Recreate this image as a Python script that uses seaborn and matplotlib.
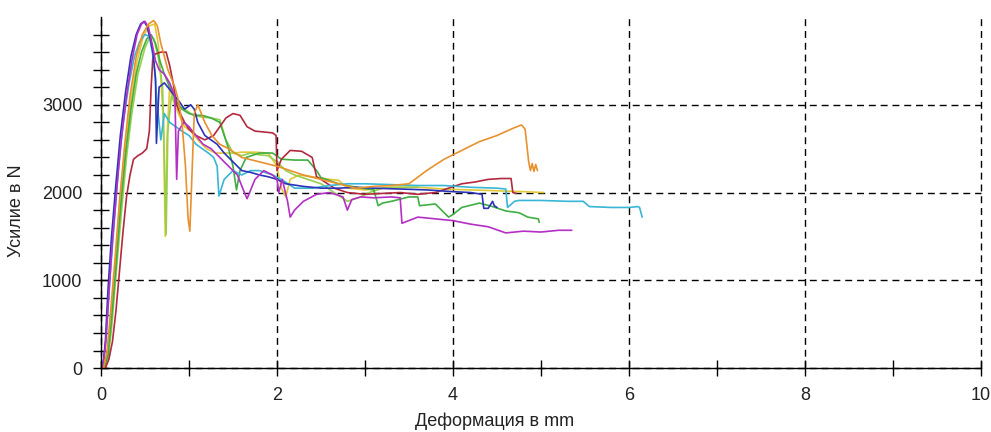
import matplotlib
matplotlib.use("Agg")
import matplotlib.pyplot as plt
from matplotlib.ticker import FixedLocator
import seaborn as sns
import pandas as pd

# ---------- data (deformation mm / force N) ----------

blue_x = [0.02, 0.05, 0.08, 0.12, 0.17, 0.22, 0.28, 0.34, 0.40, 0.45, 0.49, 0.52, 0.56, 0.59, 0.62, 0.63,
          0.66, 0.72, 0.80, 0.88, 0.95, 1.02, 1.06, 1.10, 1.18, 1.25, 1.32, 1.40, 1.50, 1.60, 1.70, 1.80,
          1.90, 2.00, 2.10, 2.30, 2.50, 2.70, 2.90, 3.10, 3.40, 3.70, 4.00, 4.20, 4.33, 4.35, 4.40, 4.45,
          4.47, 4.50]
blue_y = [0, 300, 900, 1500, 2100, 2650, 3150, 3550, 3800, 3920, 3950, 3900, 3750, 3600, 3300, 2560,
          3200, 3250, 3150, 3050, 2950, 3000, 2950, 2800, 2650, 2600, 2550, 2450, 2350, 2250, 2230, 2200,
          2180, 2150, 2100, 2070, 2050, 2050, 2060, 2050, 2040, 2030, 2010, 2000, 1980, 1820, 1820, 1900,
          1850, 1830]

cyan_x = [0.02, 0.06, 0.10, 0.15, 0.20, 0.26, 0.32, 0.38, 0.44, 0.50, 0.55, 0.60, 0.64, 0.68, 0.72, 0.78,
          0.85, 0.92, 1.00, 1.08, 1.15, 1.22, 1.28, 1.32, 1.34, 1.40, 1.50, 1.60, 1.70, 1.80, 1.95, 2.05,
          2.20, 2.40, 2.60, 2.80, 3.00, 3.30, 3.60, 3.90, 4.20, 4.50, 4.60, 4.62, 4.70, 4.75, 5.00, 5.30,
          5.48, 5.55, 5.80, 6.00, 6.10, 6.12, 6.15]
cyan_y = [0, 350, 1000, 1650, 2300, 2850, 3250, 3550, 3720, 3800, 3780, 3500, 3000, 2600, 2900, 2800,
          2750, 2700, 2650, 2550, 2500, 2450, 2400, 2300, 1960, 2150, 2250, 2200, 2250, 2250, 2200, 2150,
          2050, 2050, 2080, 2100, 2100, 2090, 2080, 2080, 2060, 2050, 2040, 1830, 1900, 1910, 1910, 1900,
          1900, 1840, 1830, 1830, 1840, 1830, 1720]

magenta_x = [0.02, 0.05, 0.09, 0.13, 0.18, 0.23, 0.29, 0.35, 0.41, 0.46, 0.50, 0.54, 0.58, 0.62, 0.66,
             0.72, 0.78, 0.84, 0.86, 0.88, 0.94, 1.00, 1.08, 1.16, 1.25, 1.35, 1.45, 1.55, 1.63, 1.66,
             1.75, 1.85, 1.95, 2.00, 2.02, 2.06, 2.12, 2.15, 2.20, 2.30, 2.45, 2.60, 2.75, 2.80, 2.85,
             2.95, 3.10, 3.30, 3.40, 3.42, 3.60, 3.80, 4.00, 4.20, 4.40, 4.60, 4.80, 5.00, 5.20, 5.35]
magenta_y = [0, 250, 850, 1450, 2050, 2600, 3100, 3500, 3800, 3920, 3950, 3880, 3700, 3500, 3400,
             3350, 3250, 3100, 2150, 2700, 2800, 2750, 2650, 2550, 2500, 2400, 2300, 2200, 2000, 1930,
             2150, 2250, 2200, 2150, 2000, 2150, 1900, 1720, 1800, 1900, 1980, 2000, 1950, 1800, 1920,
             1950, 1940, 1950, 1940, 1650, 1720, 1700, 1680, 1640, 1610, 1540, 1560, 1550, 1570, 1570]

orange_x = [0.03, 0.07, 0.11, 0.16, 0.21, 0.27, 0.33, 0.40, 0.47, 0.54, 0.60, 0.64, 0.68, 0.72, 0.76,
            0.80, 0.84, 0.88, 0.92, 0.96, 0.99, 1.01, 1.03, 1.06, 1.10, 1.18, 1.26, 1.35, 1.45, 1.60,
            1.80, 2.00, 2.15, 2.30, 2.50, 2.70, 2.90, 3.10, 3.30, 3.50, 3.70, 3.90, 4.10, 4.30, 4.50,
            4.70, 4.78, 4.82, 4.86, 4.88, 4.90, 4.92, 4.94, 4.96]
orange_y = [0, 200, 650, 1250, 1900, 2550, 3100, 3550, 3800, 3920, 3960, 3900, 3700, 3550, 3400,
            3300, 3200, 3050, 2800, 2300, 1700, 1560, 2100, 2900, 3000, 2800, 2650, 2550, 2500, 2400,
            2350, 2300, 2250, 2200, 2150, 2100, 2050, 2070, 2080, 2100, 2250, 2380, 2480, 2580, 2650,
            2740, 2770, 2720, 2350, 2250, 2330, 2240, 2320, 2250]

yellow_x = [0.03, 0.07, 0.11, 0.16, 0.22, 0.28, 0.34, 0.41, 0.48, 0.55, 0.61, 0.65, 0.68, 0.71, 0.73,
            0.75, 0.78, 0.82, 0.88, 0.95, 1.02, 1.10, 1.20, 1.30, 1.40, 1.50, 1.60, 1.75, 1.90, 2.00,
            2.05, 2.10, 2.15, 2.25, 2.40, 2.60, 2.70, 2.80, 3.00, 3.30, 3.60, 3.90, 4.20, 4.50, 4.80, 5.03]
yellow_y = [0, 150, 550, 1150, 1850, 2500, 3050, 3500, 3780, 3900, 3920, 3700, 3300, 2800, 1500,
            2600, 3200, 3050, 2900, 2750, 2700, 2600, 2500, 2450, 2450, 2450, 2460, 2460, 2450, 2300,
            2050, 1950, 2150, 2200, 2180, 2150, 2140, 2050, 2030, 2060, 2060, 2040, 2030, 2020, 2010, 2000]

green_x = [0.04, 0.08, 0.12, 0.17, 0.22, 0.28, 0.34, 0.40, 0.46, 0.52, 0.57, 0.62, 0.67, 0.72, 0.78,
           0.85, 0.92, 1.00, 1.08, 1.15, 1.25, 1.35, 1.45, 1.50, 1.54, 1.58, 1.65, 1.80, 1.95, 2.05,
           2.20, 2.35, 2.45, 2.50, 2.70, 2.90, 3.10, 3.15, 3.20, 3.30, 3.50, 3.60, 3.62, 3.80, 3.95,
           4.00, 4.10, 4.30, 4.45, 4.60, 4.75, 4.85, 4.97, 4.98]
green_y = [0, 150, 550, 1150, 1800, 2450, 2950, 3350, 3600, 3750, 3800, 3700, 3500, 3350, 3200,
           3050, 2950, 2900, 2880, 2880, 2850, 2800, 2500, 2300, 2030, 2250, 2400, 2450, 2450, 2380,
           2370, 2370, 2250, 2170, 2100, 2060, 2030, 1850, 1880, 1900, 1950, 1950, 1850, 1870, 1720,
           1750, 1830, 1880, 1840, 1790, 1770, 1720, 1700, 1660]

lime_x = [0.04, 0.08, 0.12, 0.17, 0.23, 0.29, 0.35, 0.42, 0.50, 0.56, 0.60, 0.65, 0.70, 0.74, 0.76,
          0.80, 0.86, 0.95, 1.05, 1.15, 1.25, 1.35, 1.42, 1.50, 1.60, 1.70, 1.80, 1.90, 2.00, 2.10,
          2.20, 2.35, 2.50, 2.65, 2.80, 2.95, 3.05, 3.20, 3.40, 3.60]
lime_y = [0, 100, 450, 1050, 1750, 2400, 2900, 3350, 3650, 3780, 3750, 3550, 3200, 1520, 2700,
          3100, 3000, 2950, 2880, 2860, 2850, 2830, 2600, 2450, 2420, 2450, 2430, 2420, 2350, 2250,
          2200, 2150, 2100, 2000, 1900, 1950, 2000, 2050, 2060, 2060]

maroon_x = [0.05, 0.09, 0.13, 0.17, 0.21, 0.25, 0.29, 0.33, 0.37, 0.42, 0.47, 0.52, 0.55, 0.57, 0.59,
            0.62, 0.68, 0.74, 0.78, 0.82, 0.86, 0.90, 0.95, 1.00, 1.08, 1.18, 1.28, 1.35, 1.42, 1.50,
            1.58, 1.66, 1.75, 1.85, 1.95, 1.99, 2.00, 2.05, 2.15, 2.28, 2.40, 2.45, 2.50, 2.65, 2.80,
            3.00, 3.20, 3.40, 3.60, 3.80, 3.95, 4.10, 4.25, 4.40, 4.55, 4.66, 4.68, 4.72]
maroon_y = [0, 100, 300, 650, 1100, 1550, 1950, 2200, 2380, 2420, 2450, 2500, 2700, 3200, 3550,
            3580, 3600, 3600, 3450, 3250, 3000, 2900, 2800, 2720, 2650, 2600, 2650, 2750, 2850, 2900,
            2880, 2750, 2700, 2690, 2680, 2650, 2250, 2380, 2480, 2470, 2400, 2180, 2150, 2050, 2000,
            1980, 1990, 2000, 1980, 2000, 2050, 2100, 2120, 2150, 2160, 2160, 2000, 1990]

curves = {
    "yellow": (yellow_x, yellow_y, "#e0c838"),
    "lime": (lime_x, lime_y, "#96cf4c"),
    "green": (green_x, green_y, "#3fae44"),
    "maroon": (maroon_x, maroon_y, "#b3293f"),
    "cyan": (cyan_x, cyan_y, "#38b6d6"),
    "blue": (blue_x, blue_y, "#2b33b8"),
    "magenta": (magenta_x, magenta_y, "#b42fc4"),
    "orange": (orange_x, orange_y, "#e8912e"),
}

rows = []
for name, (xs, ys, _) in curves.items():
    for i, (xv, yv) in enumerate(zip(xs, ys)):
        rows.append({"curve": name, "step": i, "x": xv, "y": yv})
df = pd.DataFrame(rows)
palette = {name: c for name, (_, _, c) in curves.items()}

sns.set_style("white")
plt.rcParams["font.family"] = ["Liberation Sans", "DejaVu Sans"]

fig, ax = plt.subplots(figsize=(9.91, 4.32), dpi=100)
fig.subplots_adjust(left=0.1019, right=0.9899, bottom=0.148, top=0.9606)

sns.lineplot(data=df, x="x", y="y", hue="curve", palette=palette, sort=False,
             estimator=None, legend=False, linewidth=1.2, ax=ax)

ax.set_xlim(0, 10)
ax.set_ylim(0, 4000)
ax.xaxis.set_major_locator(FixedLocator([0, 2, 4, 6, 8, 10]))
ax.xaxis.set_minor_locator(FixedLocator([1, 3, 5, 7, 9]))
ax.yaxis.set_major_locator(FixedLocator([0, 1000, 2000, 3000]))
ax.yaxis.set_minor_locator(FixedLocator([v for v in range(200, 4000, 200) if v % 1000]))
ax.tick_params(which="both", bottom=True, left=True, direction="inout",
               length=11, width=1, color="black")
ax.tick_params(which="major", labelsize=13, labelcolor="#222222", pad=8)

# dashed grid, kept beneath the curves; the one at x=10 works as the right border
ax.set_axisbelow(True)
ax.grid(True, which="major", color="black", linestyle=(0, (5, 3.5)), linewidth=1)
for gl in ax.xaxis.get_gridlines() + ax.yaxis.get_gridlines():
    gl.set_clip_on(False)

for side in ["top", "right"]:
    ax.spines[side].set_visible(False)
for side in ["left", "bottom"]:
    ax.spines[side].set_color("black")
    ax.spines[side].set_linewidth(1)

ax.set_xlabel("Деформация в mm", fontsize=13, color="#222222")
ax.set_ylabel("Усилие в N", fontsize=13, color="#222222")
ax.xaxis.set_label_coords(0.447, -0.128)
ax.yaxis.set_label_coords(-0.086, 0.447)

plt.savefig("out.png", dpi=100)
plt.close()
